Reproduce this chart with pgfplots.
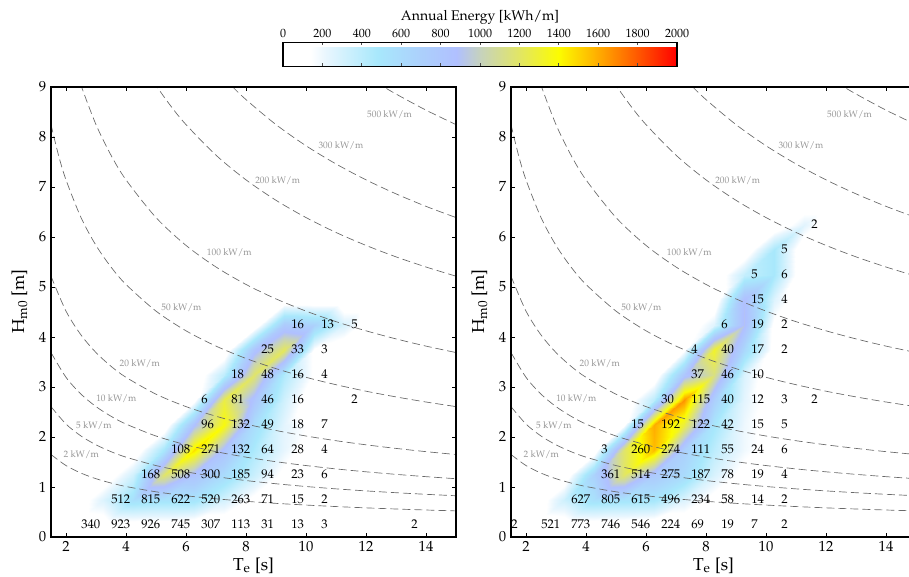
\documentclass[border=0pt]{standalone}
\usepackage[T1]{fontenc}
\usepackage{mathpazo}
\usepackage{pgfplots}
\usepackage{pgfplotstable}
\pgfplotsset{compat=1.18}
\usetikzlibrary{calc}

\definecolor{ctrline}{RGB}{105,105,105}
\definecolor{ctrtext}{RGB}{150,150,150}

% annual energy at the grid nodes [kWh/m], left panel (rows from top down)
\pgfplotstableread[row sep=\\]{
T H E\\
2.25 4.75 0\\ 3.25 4.75 0\\ 4.25 4.75 0\\ 5.25 4.75 0\\ 6.25 4.75 0\\ 7.25 4.75 0\\ 8.25 4.75 0\\ 9.25 4.75 0\\ 10.25 4.75 0\\ 11.25 4.75 0\\ 12.25 4.75 0\\
2.25 4.25 0\\ 3.25 4.25 0\\ 4.25 4.25 0\\ 5.25 4.25 0\\ 6.25 4.25 0\\ 7.25 4.25 0\\ 8.25 4.25 0\\ 9.25 4.25 759\\ 10.25 4.25 684\\ 11.25 4.25 289\\ 12.25 4.25 0\\
2.25 3.75 0\\ 3.25 3.75 0\\ 4.25 3.75 0\\ 5.25 3.75 0\\ 6.25 3.75 0\\ 7.25 3.75 0\\ 8.25 3.75 824\\ 9.25 3.75 1219\\ 10.25 3.75 123\\ 11.25 3.75 0\\ 12.25 3.75 0\\
2.25 3.25 0\\ 3.25 3.25 0\\ 4.25 3.25 0\\ 5.25 3.25 0\\ 6.25 3.25 0\\ 7.25 3.25 392\\ 8.25 3.25 1188\\ 9.25 3.25 444\\ 10.25 3.25 123\\ 11.25 3.25 0\\ 12.25 3.25 0\\
2.25 2.75 0\\ 3.25 2.75 0\\ 4.25 2.75 0\\ 5.25 2.75 0\\ 6.25 2.75 81\\ 7.25 2.75 1261\\ 8.25 2.75 815\\ 9.25 2.75 318\\ 10.25 2.75 0\\ 11.25 2.75 48\\ 12.25 2.75 0\\
2.25 2.25 0\\ 3.25 2.25 0\\ 4.25 2.25 0\\ 5.25 2.25 0\\ 6.25 2.25 863\\ 7.25 2.25 1376\\ 8.25 2.25 581\\ 9.25 2.25 239\\ 10.25 2.25 103\\ 11.25 2.25 0\\ 12.25 2.25 0\\
2.25 1.75 0\\ 3.25 1.75 0\\ 4.25 1.75 0\\ 5.25 1.75 493\\ 6.25 1.75 1473\\ 7.25 1.75 832\\ 8.25 1.75 459\\ 9.25 1.75 225\\ 10.25 1.75 36\\ 11.25 1.75 0\\ 12.25 1.75 0\\
2.25 1.25 0\\ 3.25 1.25 0\\ 4.25 1.25 317\\ 5.25 1.25 1184\\ 6.25 1.25 832\\ 7.25 1.25 595\\ 8.25 1.25 344\\ 9.25 1.25 94\\ 10.25 1.25 27\\ 11.25 1.25 0\\ 12.25 1.25 0\\
2.25 0.75 0\\ 3.25 0.75 266\\ 4.25 0.75 553\\ 5.25 0.75 522\\ 6.25 0.75 519\\ 7.25 0.75 305\\ 8.25 0.75 94\\ 9.25 0.75 22\\ 10.25 0.75 3\\ 11.25 0.75 0\\ 12.25 0.75 0\\
2.25 0.25 14\\ 3.25 0.25 53\\ 4.25 0.25 70\\ 5.25 0.25 69\\ 6.25 0.25 34\\ 7.25 0.25 15\\ 8.25 0.25 5\\ 9.25 0.25 2\\ 10.25 0.25 1\\ 11.25 0.25 0\\ 12.25 0.25 0\\
}\leftE

% right panel (rows from top down)
\pgfplotstableread[row sep=\\]{
T H E\\
2.25 6.75 0\\ 3.25 6.75 0\\ 4.25 6.75 0\\ 5.25 6.75 0\\ 6.25 6.75 0\\ 7.25 6.75 0\\ 8.25 6.75 0\\ 9.25 6.75 0\\ 10.25 6.75 0\\ 11.25 6.75 0\\ 12.25 6.75 0\\
2.25 6.25 0\\ 3.25 6.25 0\\ 4.25 6.25 0\\ 5.25 6.25 0\\ 6.25 6.25 0\\ 7.25 6.25 0\\ 8.25 6.25 0\\ 9.25 6.25 0\\ 10.25 6.25 0\\ 11.25 6.25 250\\ 12.25 6.25 0\\
2.25 5.75 0\\ 3.25 5.75 0\\ 4.25 5.75 0\\ 5.25 5.75 0\\ 6.25 5.75 0\\ 7.25 5.75 0\\ 8.25 5.75 0\\ 9.25 5.75 0\\ 10.25 5.75 481\\ 11.25 5.75 0\\ 12.25 5.75 0\\
2.25 5.25 0\\ 3.25 5.25 0\\ 4.25 5.25 0\\ 5.25 5.25 0\\ 6.25 5.25 0\\ 7.25 5.25 0\\ 8.25 5.25 0\\ 9.25 5.25 362\\ 10.25 5.25 481\\ 11.25 5.25 0\\ 12.25 5.25 0\\
2.25 4.75 0\\ 3.25 4.75 0\\ 4.25 4.75 0\\ 5.25 4.75 0\\ 6.25 4.75 0\\ 7.25 4.75 0\\ 8.25 4.75 0\\ 9.25 4.75 889\\ 10.25 4.75 263\\ 11.25 4.75 0\\ 12.25 4.75 0\\
2.25 4.25 0\\ 3.25 4.25 0\\ 4.25 4.25 0\\ 5.25 4.25 0\\ 6.25 4.25 0\\ 7.25 4.25 0\\ 8.25 4.25 254\\ 9.25 4.25 902\\ 10.25 4.25 105\\ 11.25 4.25 0\\ 12.25 4.25 0\\
2.25 3.75 0\\ 3.25 3.75 0\\ 4.25 3.75 0\\ 5.25 3.75 0\\ 6.25 3.75 0\\ 7.25 3.75 120\\ 8.25 3.75 1318\\ 9.25 3.75 628\\ 10.25 3.75 82\\ 11.25 3.75 0\\ 12.25 3.75 0\\
2.25 3.25 0\\ 3.25 3.25 0\\ 4.25 3.25 0\\ 5.25 3.25 0\\ 6.25 3.25 0\\ 7.25 3.25 805\\ 8.25 3.25 1138\\ 9.25 3.25 278\\ 10.25 3.25 0\\ 11.25 3.25 0\\ 12.25 3.25 0\\
2.25 2.75 0\\ 3.25 2.75 0\\ 4.25 2.75 0\\ 5.25 2.75 0\\ 6.25 2.75 403\\ 7.25 2.75 1660\\ 8.25 2.75 709\\ 9.25 2.75 238\\ 10.25 2.75 66\\ 11.25 2.75 48\\ 12.25 2.75 0\\
2.25 2.25 0\\ 3.25 2.25 0\\ 4.25 2.25 0\\ 5.25 2.25 113\\ 6.25 2.25 1600\\ 7.25 2.25 1272\\ 8.25 2.25 498\\ 9.25 2.25 200\\ 10.25 2.25 74\\ 11.25 2.25 0\\ 12.25 2.25 0\\
2.25 1.75 0\\ 3.25 1.75 0\\ 4.25 1.75 11\\ 5.25 1.75 1187\\ 6.25 1.75 1560\\ 7.25 1.75 700\\ 8.25 1.75 395\\ 9.25 1.75 193\\ 10.25 1.75 54\\ 11.25 1.75 0\\ 12.25 1.75 0\\
2.25 1.25 0\\ 3.25 1.25 0\\ 4.25 1.25 681\\ 5.25 1.25 1198\\ 6.25 1.25 763\\ 7.25 1.25 602\\ 8.25 1.25 286\\ 9.25 1.25 78\\ 10.25 1.25 18\\ 11.25 1.25 0\\ 12.25 1.25 0\\
2.25 0.75 0\\ 3.25 0.75 326\\ 4.25 0.75 547\\ 5.25 0.75 516\\ 6.25 0.75 495\\ 7.25 0.75 271\\ 8.25 0.75 76\\ 9.25 0.75 21\\ 10.25 0.75 3\\ 11.25 0.75 0\\ 12.25 0.75 0\\
2.25 0.25 21\\ 3.25 0.25 45\\ 4.25 0.25 56\\ 5.25 0.25 51\\ 6.25 0.25 25\\ 7.25 0.25 9\\ 8.25 0.25 3\\ 9.25 0.25 1\\ 10.25 0.25 0\\ 11.25 0.25 0\\ 12.25 0.25 0\\
}\rightE

% occurrence counts written in the bins
\pgfplotstableread[row sep=\\]{
T H L\\
2.5 0.25 340\\ 3.5 0.25 923\\ 4.5 0.25 926\\ 5.5 0.25 745\\ 6.5 0.25 307\\ 7.5 0.25 113\\ 8.5 0.25 31\\ 9.5 0.25 13\\ 10.5 0.25 3\\ 13.5 0.25 2\\
3.5 0.75 512\\ 4.5 0.75 815\\ 5.5 0.75 622\\ 6.5 0.75 520\\ 7.5 0.75 263\\ 8.5 0.75 71\\ 9.5 0.75 15\\ 10.5 0.75 2\\
4.5 1.25 168\\ 5.5 1.25 508\\ 6.5 1.25 300\\ 7.5 1.25 185\\ 8.5 1.25 94\\ 9.5 1.25 23\\ 10.5 1.25 6\\
5.5 1.75 108\\ 6.5 1.75 271\\ 7.5 1.75 132\\ 8.5 1.75 64\\ 9.5 1.75 28\\ 10.5 1.75 4\\
6.5 2.25 96\\ 7.5 2.25 132\\ 8.5 2.25 49\\ 9.5 2.25 18\\ 10.5 2.25 7\\
6.5 2.75 6\\ 7.5 2.75 81\\ 8.5 2.75 46\\ 9.5 2.75 16\\ 11.5 2.75 2\\
7.5 3.25 18\\ 8.5 3.25 48\\ 9.5 3.25 16\\ 10.5 3.25 4\\
8.5 3.75 25\\ 9.5 3.75 33\\ 10.5 3.75 3\\
9.5 4.25 16\\ 10.5 4.25 13\\ 11.5 4.25 5\\
}\leftN

\pgfplotstableread[row sep=\\]{
T H L\\
1.5 0.25 2\\ 2.5 0.25 521\\ 3.5 0.25 773\\ 4.5 0.25 746\\ 5.5 0.25 546\\ 6.5 0.25 224\\ 7.5 0.25 69\\ 8.5 0.25 19\\ 9.5 0.25 7\\ 10.5 0.25 2\\
3.5 0.75 627\\ 4.5 0.75 805\\ 5.5 0.75 615\\ 6.5 0.75 496\\ 7.5 0.75 234\\ 8.5 0.75 58\\ 9.5 0.75 14\\ 10.5 0.75 2\\
4.5 1.25 361\\ 5.5 1.25 514\\ 6.5 1.25 275\\ 7.5 1.25 187\\ 8.5 1.25 78\\ 9.5 1.25 19\\ 10.5 1.25 4\\
4.5 1.75 3\\ 5.5 1.75 260\\ 6.5 1.75 274\\ 7.5 1.75 111\\ 8.5 1.75 55\\ 9.5 1.75 24\\ 10.5 1.75 6\\
5.5 2.25 15\\ 6.5 2.25 192\\ 7.5 2.25 122\\ 8.5 2.25 42\\ 9.5 2.25 15\\ 10.5 2.25 5\\
6.5 2.75 30\\ 7.5 2.75 115\\ 8.5 2.75 40\\ 9.5 2.75 12\\ 10.5 2.75 3\\ 11.5 2.75 2\\
7.5 3.25 37\\ 8.5 3.25 46\\ 9.5 3.25 10\\
7.5 3.75 4\\ 8.5 3.75 40\\ 9.5 3.75 17\\ 10.5 3.75 2\\
8.5 4.25 6\\ 9.5 4.25 19\\ 10.5 4.25 2\\
9.5 4.75 15\\ 10.5 4.75 4\\
9.5 5.25 5\\ 10.5 5.25 6\\
10.5 5.75 5\\
11.5 6.25 2\\
}\rightN

% wave power contour labels
\pgfplotstableread[col sep=comma]{
T,H,L
12.03,8.44,500 kW/m
10.41,7.83,300 kW/m
8.30,7.12,200 kW/m
6.69,5.69,100 kW/m
5.17,4.59,50 kW/m
3.78,3.47,20 kW/m
3.00,2.76,10 kW/m
2.33,2.22,5 kW/m
1.91,1.64,2 kW/m
}\contlabels

\pgfplotsset{
  ctr/.style={ctrline, line width=0.5pt, dash pattern=on 6pt off 3pt, smooth},
  panel/.style={
    scale only axis, width=303.75pt, height=337.5pt, anchor=south west,
    xmin=1.5, xmax=15, ymin=0, ymax=9,
    xtick={2,4,...,14}, ytick={0,1,...,9},
    tick align=inside, major tick length=3pt,
    axis line style={line width=1.2pt},
    every tick/.style={black, line width=0.6pt},
    tick label style={font=\fontsize{11}{13}\selectfont},
    axis on top,
    colormap={energy}{rgb255(0pt)=(255,255,255) rgb255(14pt)=(255,255,255)
      rgb255(22pt)=(232,246,254) rgb255(48pt)=(168,232,252) rgb255(70pt)=(172,208,252)
      rgb255(88pt)=(176,192,255) rgb255(100pt)=(198,210,190) rgb255(120pt)=(226,230,100)
      rgb255(140pt)=(252,252,0) rgb255(160pt)=(255,172,0) rgb255(180pt)=(255,88,0)
      rgb255(200pt)=(255,0,0)},
    point meta min=0, point meta max=2000,
    xlabel={T$_{\mathrm{e}}$ [s]},
    ylabel={H$_{\mathrm{m0}}$ [m]},
    label style={font=\fontsize{13}{15}\selectfont},
    xlabel style={at={(axis description cs:0.5,0)}, anchor=base, yshift=-24.75pt},
    ylabel style={at={(axis description cs:-0.078,0.523)}, anchor=center},
  },
  counts/.style={only marks, mark=none, point meta=explicit symbolic, nodes near coords,
    every node near coord/.append style={anchor=west, inner sep=0pt,
      font=\fontsize{9.5}{11}\selectfont, text=black}},
}

\newcommand{\contours}{%
  \addplot[ctr] coordinates {(1.5,1.650) (2,1.429) (2.5,1.278) (3,1.166) (3.5,1.080) (4,1.010) (5,0.904) (6,0.825) (7,0.764) (8,0.714) (9,0.673) (10,0.639) (11,0.609) (12,0.583) (13,0.560) (14,0.540) (15,0.522)};
  \addplot[ctr] coordinates {(1.5,2.608) (2,2.259) (2.5,2.020) (3,1.844) (3.5,1.707) (4,1.597) (5,1.429) (6,1.304) (7,1.207) (8,1.129) (9,1.065) (10,1.010) (11,0.963) (12,0.922) (13,0.886) (14,0.854) (15,0.825)};
  \addplot[ctr] coordinates {(1.5,3.689) (2,3.194) (2.5,2.857) (3,2.608) (3.5,2.415) (4,2.259) (5,2.020) (6,1.844) (7,1.707) (8,1.597) (9,1.506) (10,1.429) (11,1.362) (12,1.304) (13,1.253) (14,1.207) (15,1.166)};
  \addplot[ctr] coordinates {(1.5,5.216) (2,4.518) (2.5,4.041) (3,3.689) (3.5,3.415) (4,3.194) (5,2.857) (6,2.608) (7,2.415) (8,2.259) (9,2.130) (10,2.020) (11,1.926) (12,1.844) (13,1.772) (14,1.707) (15,1.650)};
  \addplot[ctr] coordinates {(1.5,8.248) (1.75,7.636) (2,7.143) (2.5,6.389) (3,5.832) (3.5,5.400) (4,5.051) (5,4.518) (6,4.124) (7,3.818) (8,3.571) (9,3.367) (10,3.194) (11,3.046) (12,2.916) (13,2.802) (14,2.700) (15,2.608)};
  \addplot[ctr] coordinates {(2.25,9.524) (2.5,9.035) (3,8.248) (3.5,7.636) (4,7.143) (5,6.389) (6,5.832) (7,5.400) (8,5.051) (9,4.762) (10,4.518) (11,4.307) (12,4.124) (13,3.962) (14,3.818) (15,3.689)};
  \addplot[ctr] coordinates {(4.5,9.524) (5,9.035) (5.5,8.614) (6,8.248) (7,7.636) (8,7.143) (9,6.734) (10,6.389) (11,6.091) (12,5.832) (13,5.603) (14,5.400) (15,5.216)};
  \addplot[ctr] coordinates {(7,9.352) (7.5,9.035) (8,8.748) (9,8.248) (10,7.825) (11,7.461) (12,7.143) (13,6.863) (14,6.613) (15,6.389)};
  \addplot[ctr] coordinates {(12,9.222) (12.5,9.035) (13,8.860) (14,8.537) (15,8.248)};
  \addplot[only marks, mark=none, point meta=explicit symbolic, nodes near coords,
    every node near coord/.append style={anchor=west, inner sep=0pt,
      font=\fontsize{7}{8}\selectfont, text=ctrtext}]
    table[x=T, y=H, meta=L] {\contlabels};
}

\begin{document}
\begin{tikzpicture}
\begin{axis}[panel, at={(38.25pt,29.25pt)},
  colorbar horizontal,
  colorbar style={
    at={($(parent axis.north west)+(174pt,24pt)$)}, anchor=south west,
    scale only axis, width=295.5pt, height=18pt,
    xtick={0,200,...,2000}, xtick pos=both, xticklabel pos=upper,
    tick align=inside, major tick length=2.2pt,
    every tick/.style={black!70, line width=0.6pt},
    axis line style={line width=1pt},
    xticklabel style={font=\fontsize{9}{10}\selectfont, /pgf/number format/1000 sep={}},
    title={Annual Energy [kWh/m]},
    title style={font=\fontsize{10.5}{12}\selectfont, at={(0.5,1)}, anchor=base, yshift=10.5pt},
  }]
  \addplot[surf, shader=interp, mesh/rows=10, mesh/cols=11, point meta=\thisrow{E}]
    table[x=T, y=H] {\leftE};
  \contours
  \addplot[counts] table[x=T, y=H, meta=L] {\leftN};
\end{axis}
\begin{axis}[panel, at={(383.25pt,29.25pt)}]
  \addplot[surf, shader=interp, mesh/rows=14, mesh/cols=11, point meta=\thisrow{E}]
    table[x=T, y=H] {\rightE};
  \contours
  \addplot[counts] table[x=T, y=H, meta=L] {\rightN};
\end{axis}
\pgfresetboundingbox
\path[use as bounding box] (0,0) rectangle (681.75pt,432pt);
\end{tikzpicture}
\end{document}
